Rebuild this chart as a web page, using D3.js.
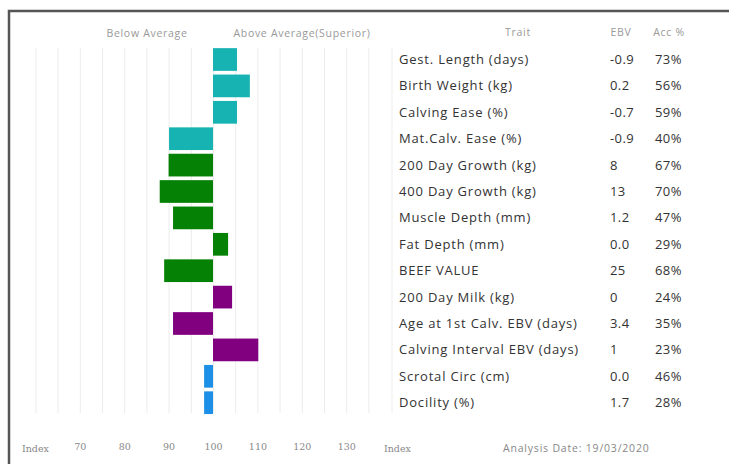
<!DOCTYPE html>
<html>
<head>
<meta charset="utf-8">
<script src="https://cdn.jsdelivr.net/npm/d3@7"></script>
<style>
  body { margin: 0; background: #fff; }
  svg { display: block; font-family: "Open Sans", sans-serif; }
</style>
</head>
<body>
<div id="chart"></div>
<script>
// trait rows, top to bottom
const traits = [
  "Gest. Length (days)", "Birth Weight (kg)", "Calving Ease (%)", "Mat.Calv. Ease (%)",
  "200 Day Growth (kg)", "400 Day Growth (kg)", "Muscle Depth (mm)", "Fat Depth (mm)",
  "BEEF VALUE", "200 Day Milk (kg)", "Age at 1st Calv. EBV (days)", "Calving Interval EBV (days)",
  "Scrotal Circ (cm)", "Docility (%)"
];
const ebv = ["-0.9", "0.2", "-0.7", "-0.9", "8", "13", "1.2", "0.0", "25", "0", "3.4", "1", "0.0", "1.7"];
const acc = ["73%", "56%", "59%", "40%", "67%", "70%", "47%", "29%", "68%", "24%", "35%", "23%", "46%", "28%"];
const indexValues = [105.4, 108.3, 105.4, 90.1, 90, 88, 91, 103.4, 89, 104.3, 91, 110.2, 98, 98];
const groups = ["calving", "calving", "calving", "calving", "growth", "growth", "growth", "growth",
  "growth", "fertility", "fertility", "fertility", "other", "other"];
const tickValues = [70, 80, 90, 100, 110, 120, 130];

const colour = d3.scaleOrdinal()
  .domain(["calving", "growth", "fertility", "other"])
  .range(["#17b3b3", "#058205", "#800080", "#1c8fe6"]);

const width = 729, height = 464;
const svg = d3.select("#chart").append("svg")
  .attr("width", width).attr("height", height);

// frame (only top/left visible in the crop)
svg.append("rect")
  .attr("x", 9).attr("y", 11)
  .attr("width", 900).attr("height", 600)
  .attr("fill", "none").attr("stroke", "#555").attr("stroke-width", 2.5);

const x = d3.scaleLinear().domain([60, 135]).range([35.4, 368.4]);
const y = d3.scaleBand().domain(traits).range([46.3, 415.9]).paddingInner(0.14).paddingOuter(0.07);

// grid
svg.append("g")
  .attr("transform", "translate(0,413)")
  .call(d3.axisBottom(x).tickValues(d3.range(60, 136, 5)).tickSize(-365).tickFormat(""))
  .call(g => g.select(".domain").remove())
  .call(g => g.selectAll("line").attr("stroke", "#ececec"));

// table divider
svg.append("line")
  .attr("x1", 392).attr("x2", 392).attr("y1", 48).attr("y2", 413)
  .attr("stroke", "#eee");

// bars
svg.selectAll(".bar")
  .data(traits)
  .join("rect")
  .attr("class", "bar")
  .attr("x", (d, i) => x(Math.min(100, indexValues[i])))
  .attr("y", d => y(d))
  .attr("width", (d, i) => Math.abs(x(indexValues[i]) - x(100)))
  .attr("height", y.bandwidth())
  .attr("fill", (d, i) => colour(groups[i]));

// headers
const hdr = svg.append("g").attr("fill", "#999").attr("font-size", 10.5).attr("letter-spacing", 0.7);
hdr.append("text").attr("x", 147).attr("y", 37).attr("text-anchor", "middle").text("Below Average");
hdr.append("text").attr("x", 302).attr("y", 37).attr("text-anchor", "middle").text("Above Average(Superior)");
hdr.append("text").attr("x", 518).attr("y", 36).attr("text-anchor", "middle").text("Trait");
hdr.append("text").attr("x", 621).attr("y", 36).attr("text-anchor", "middle").text("EBV");
hdr.append("text").attr("x", 669).attr("y", 36).attr("text-anchor", "middle").text("Acc %");

// table rows
const rows = svg.append("g").attr("fill", "#333").attr("font-size", 13);
rows.selectAll(".trait").data(traits).join("text")
  .attr("x", 399).attr("y", d => y(d) + y.bandwidth() / 2).attr("dy", "0.35em")
  .attr("letter-spacing", 0.8)
  .text(d => d);
rows.selectAll(".ebv").data(traits).join("text")
  .attr("x", 610).attr("y", d => y(d) + y.bandwidth() / 2).attr("dy", "0.35em")
  .attr("letter-spacing", 0.4)
  .text((d, i) => ebv[i]);
rows.selectAll(".acc").data(traits).join("text")
  .attr("x", 655).attr("y", d => y(d) + y.bandwidth() / 2).attr("dy", "0.35em")
  .attr("letter-spacing", 0.4)
  .text((d, i) => acc[i]);

// bottom axis
svg.append("g")
  .attr("transform", "translate(0,440)")
  .call(d3.axisBottom(x).tickValues(tickValues).tickSize(0))
  .call(g => g.select(".domain").remove())
  .call(g => g.selectAll("text").attr("fill", "#888").attr("font-size", 9.5).attr("font-family", "DejaVu Serif"));

const foot = svg.append("g").attr("fill", "#888").attr("font-size", 9.5).attr("font-family", "DejaVu Serif");
foot.append("text").attr("x", 22).attr("y", 452).text("Index");
foot.append("text").attr("x", 384).attr("y", 452).text("Index");
svg.append("text").attr("x", 503).attr("y", 452).attr("fill", "#888").attr("font-size", 10.5)
  .attr("letter-spacing", 0.8).text("Analysis Date: 19/03/2020");
</script>
</body>
</html>
